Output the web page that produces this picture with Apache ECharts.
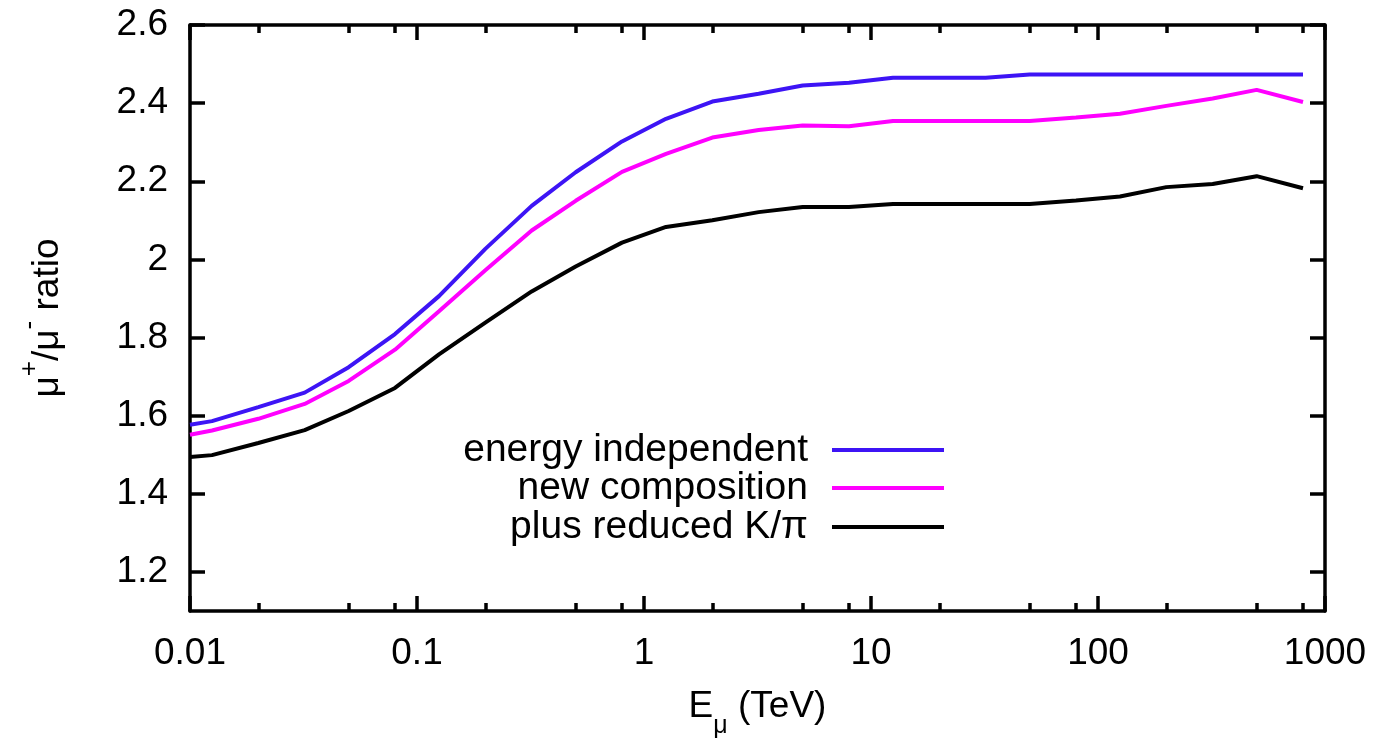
<!DOCTYPE html>
<html>
<head>
<meta charset="utf-8">
<script src="https://cdn.jsdelivr.net/npm/echarts@6/dist/echarts.min.js"></script>
<style>
html,body{margin:0;padding:0;background:#fff;}
#chart{width:1384px;height:744px;}
</style>
</head>
<body>
<div id="chart"></div>
<script>
// ---- data ----
const energies = [0.01, 0.0125, 0.02, 0.032, 0.05, 0.08, 0.125, 0.2, 0.32, 0.5, 0.8, 1.25, 2, 3.2, 5, 8, 12.5, 20, 32, 50, 80, 125, 200, 320, 500, 800];
const energyIndependent = [1.577, 1.586, 1.622, 1.659, 1.724, 1.809, 1.906, 2.027, 2.137, 2.223, 2.302, 2.360, 2.404, 2.424, 2.445, 2.452, 2.465, 2.465, 2.465, 2.473, 2.473, 2.473, 2.473, 2.473, 2.473, 2.473];
const newComposition = [1.551, 1.562, 1.592, 1.630, 1.689, 1.769, 1.867, 1.972, 2.074, 2.150, 2.224, 2.270, 2.312, 2.331, 2.343, 2.341, 2.354, 2.354, 2.354, 2.354, 2.363, 2.373, 2.393, 2.412, 2.434, 2.403];
const reducedKPi = [1.494, 1.499, 1.530, 1.563, 1.612, 1.671, 1.757, 1.838, 1.918, 1.982, 2.043, 2.083, 2.100, 2.121, 2.134, 2.134, 2.142, 2.142, 2.142, 2.142, 2.151, 2.161, 2.185, 2.193, 2.213, 2.182];
const seriesNames = ['energy independent', 'new composition', 'plus reduced K/\u03c0'];
const xMajorTicks = [0.01, 0.1, 1, 10, 100, 1000];
const xTickLabels = ['0.01', '0.1', '1', '10', '100', '1000'];
const xMinorTicks = [0.02, 0.05, 0.08, 0.2, 0.5, 0.8, 2, 5, 8, 20, 50, 80, 200, 500, 800];
const yTicks = [1.2, 1.4, 1.6, 1.8, 2, 2.2, 2.4, 2.6];
const yTickLabels = ['1.2', '1.4', '1.6', '1.8', '2', '2.2', '2.4', '2.6'];

// ---- chart ----
const FONT = '"Liberation Sans", Arial, Helvetica, sans-serif';
const FS = 37;
const colors = ['#3d14f5', '#ff00ff', '#000000'];
const values = [energyIndependent, newComposition, reducedKPi];

function pairs(ys) { return energies.map((e, i) => [e, ys[i]]); }
function xLabel(v) {
  const i = xMajorTicks.findIndex(t => Math.abs(Math.log10(t) - Math.log10(v)) < 1e-6);
  return i >= 0 ? xTickLabels[i] : '';
}
function yLabel(v) {
  const i = yTicks.findIndex(t => Math.abs(t - v) < 1e-6);
  return i >= 0 ? yTickLabels[i] : '';
}

const lineStyleAxis = { color: '#000', width: 3.5 };
function xAxisDef(pos, ticks, len, main) {
  return {
    type: 'log', logBase: 10, min: 0.01, max: 1000, position: pos,
    axisLine: { show: main, onZero: false, lineStyle: lineStyleAxis },
    axisTick: { show: true, inside: true, length: len, customValues: ticks, lineStyle: { color: '#000', width: 3.5 } },
    axisLabel: main && pos === 'bottom' ? { show: true, customValues: xMajorTicks, formatter: xLabel, fontSize: FS, fontFamily: FONT, color: '#000', margin: 24 } : { show: false },
    splitLine: { show: false }, minorTick: { show: false }, minorSplitLine: { show: false }
  };
}

const xAxes = [
  Object.assign(xAxisDef('bottom', xMajorTicks, 15, true), {
    name: 'E{sub|\u03bc} (TeV)', nameLocation: 'middle', nameGap: 77,
    nameTextStyle: {
      fontSize: FS, fontFamily: FONT, color: '#000',
      rich: { sub: { fontSize: 25, fontFamily: FONT, color: '#000', verticalAlign: 'bottom', lineHeight: 20, padding: [0, 0, -14, 0] } }
    }
  }),
  xAxisDef('bottom', xMinorTicks, 8, false),
  xAxisDef('top', xMajorTicks, 15, true),
  xAxisDef('top', xMinorTicks, 8, false)
];

const yAxes = [
  {
    type: 'value', min: 1.1, max: 2.6, position: 'left',
    axisLine: { show: true, onZero: false, lineStyle: lineStyleAxis },
    axisTick: { show: true, inside: true, length: 15, customValues: yTicks, lineStyle: { color: '#000', width: 3.5 } },
    axisLabel: { show: true, customValues: yTicks, formatter: yLabel, fontSize: FS, fontFamily: FONT, color: '#000', margin: 22 },
    splitLine: { show: false },
    name: '\u03bc{sup|+}/\u03bc{sup|-} ratio', nameLocation: 'middle', nameGap: 124, nameRotate: 90,
    nameTextStyle: {
      fontSize: FS, fontFamily: FONT, color: '#000',
      rich: { sup: { fontSize: 26, fontFamily: FONT, color: '#000', verticalAlign: 'top', lineHeight: 20, padding: [-12, 0, 0, 0] } }
    }
  },
  {
    type: 'value', min: 1.1, max: 2.6, position: 'right',
    axisLine: { show: true, onZero: false, lineStyle: lineStyleAxis },
    axisTick: { show: true, inside: true, length: 15, customValues: yTicks, lineStyle: { color: '#000', width: 3.5 } },
    axisLabel: { show: false }, splitLine: { show: false }
  }
];

const legendTops = [424, 462, 501];
const legends = seriesNames.map((n, i) => ({
  data: [n], orient: 'horizontal', align: 'right', right: 435, top: legendTops[i],
  icon: 'rect', itemWidth: 112, itemHeight: 4, selectedMode: false,
  itemStyle: { color: colors[i] },
  textStyle: { fontSize: 39, fontFamily: FONT, color: '#000', lineHeight: 42, padding: [0, 19, 0, 0] }
}));

const option = {
  animation: false,
  backgroundColor: '#fff',
  grid: { left: 190, right: 59, top: 25, bottom: 131, containLabel: false },
  xAxis: xAxes,
  yAxis: yAxes,
  legend: legends,
  series: seriesNames.map((n, i) => ({
    name: n, type: 'line', xAxisIndex: 0, yAxisIndex: 0,
    data: pairs(values[i]), showSymbol: false, symbol: 'none',
    lineStyle: { color: colors[i], width: 4 }, itemStyle: { color: colors[i] }
  }))
};

const chart = echarts.init(document.getElementById('chart'), null, { renderer: 'canvas' });
chart.setOption(option);
</script>
</body>
</html>
